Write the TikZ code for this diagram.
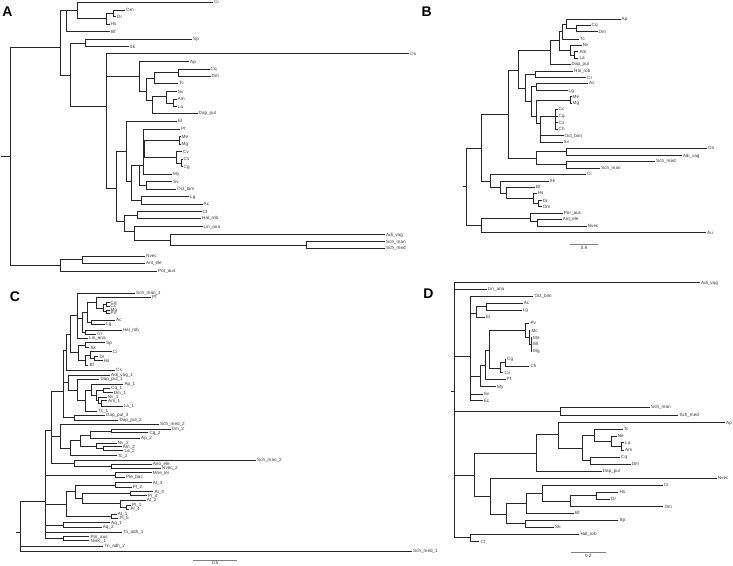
\documentclass[tikz,border=0pt]{standalone}
\usepackage{fontspec}
\setmainfont{Liberation Sans}
\tikzset{
 br/.style={draw=black!85,line width=0.7pt},
 lab/.style={anchor=west,inner xsep=1.2pt,inner ysep=0pt,outer sep=0pt,font=\fontsize{4.6}{5}\selectfont,text=black!80,text height=3.3pt,text depth=0pt},
 pl/.style={font=\fontsize{14}{14}\bfseries\selectfont,inner sep=0pt},
 sbar/.style={draw=black!50,line width=0.6pt},
}
\newcommand\inN[4]{\coordinate (#1) at (#2,#3); \draw[br] (#4) |- (#1);}
\newcommand\tipL[5]{\node[lab] (#1) at (#2,#3) {#4}; \draw[br] (#5) |- (#1.west);}
\begin{document}
\begin{tikzpicture}[x=1pt,y=-1pt]
\path[use as bounding box] (0,0) rectangle (733,565);
% ---------------- Panel A
\node[pl] (LA) at (7.5,11.7) {A};
\coordinate (A0) at (10.7,156.7); \coordinate (A0s) at (0.5,156.7); \draw[br] (A0s) -- (A0);
\inN{A1}{60}{47.7}{A0}
\inN{A2}{66.7}{10}{A1}
\inN{A4}{77}{10}{A2}
\tipL{aCi}{213}{2.2}{Ci}{A4}
\inN{A5}{106}{18.3}{A4}
\inN{A6}{113}{13.3}{A5}
\tipL{aOm}{125}{10}{Om}{A6}
\tipL{aDr}{116}{16.5}{Dr}{A6}
\tipL{aHs}{109.5}{24}{Hs}{A5}
\tipL{aBf}{110}{31.7}{Bf}{A2}
\inN{A3}{70.7}{75}{A1}
\inN{A7}{85}{43}{A3}
\tipL{aSp}{192}{39.3}{Sp}{A7}
\tipL{aSk}{128.5}{46.7}{Sk}{A7}
\inN{A8}{106}{106.7}{A3}
\tipL{aOs}{409}{53.5}{Os}{A8}
\inN{A9}{139.3}{76.7}{A8}
\tipL{aAp}{189}{61.7}{Ap}{A9}
\inN{A11}{146.7}{91.7}{A9}
\inN{A12}{154}{78}{A11}
\inN{A14}{178.3}{72.7}{A12}
\tipL{aCq}{209.5}{69.3}{Cq}{A14}
\tipL{aDm}{210.5}{76}{Dm}{A14}
\tipL{aTc}{178}{83.3}{Tc}{A12}
\inN{A13}{152.7}{100}{A11}
\inN{A15}{166}{96.7}{A13}
\tipL{aNv}{176.5}{91.7}{Nv}{A15}
\inN{A16}{173.3}{103}{A15}
\tipL{aAm}{176.5}{99.3}{Am}{A16}
\tipL{aLa}{176.5}{106.7}{La}{A16}
\tipL{aDap}{197.5}{113.3}{Dap\_pul}{A13}
\inN{A10}{116.7}{188.3}{A8}
\inN{A17}{126}{151.7}{A10}
\tipL{aEl}{177}{121}{El}{A17}
\inN{A19}{131.7}{181.7}{A17}
\inN{A20}{139.3}{165}{A19}
\inN{A22}{143}{165}{A20}
\tipL{aPf}{180}{129.3}{Pf}{A22}
\inN{A24}{144.5}{148.5}{A22}
\inN{A26}{179.3}{140.3}{A24}
\tipL{aMe}{180.5}{136.7}{Me}{A26}
\tipL{aMg}{180.5}{144}{Mg}{A26}
\inN{A27}{176.7}{157.3}{A24}
\tipL{aCv}{182}{151.7}{Cv}{A27}
\inN{A28}{181}{162.9}{A27}
\tipL{aCs}{182.5}{159}{Cs}{A28}
\tipL{aCg}{182.5}{166.7}{Cg}{A28}
\tipL{aMy}{172}{174}{My}{A22}
\inN{A23}{146.7}{185.3}{A20}
\tipL{aSv}{172}{181.7}{Sv}{A23}
\tipL{aOct}{176}{189}{Oct\_bim}{A23}
\inN{A21}{141.7}{200}{A19}
\tipL{aLg}{189}{196.7}{Lg}{A21}
\tipL{aAc}{202.5}{204}{Ac}{A21}
\inN{A18}{124}{221.7}{A10}
\inN{A29}{137.7}{215}{A18}
\tipL{aCt}{201.5}{211.7}{Ct}{A29}
\tipL{aHal}{201}{218.3}{Hal\_rob}{A29}
\inN{A30}{134.3}{231.7}{A18}
\tipL{aLin}{202.5}{226.7}{Lin\_ana}{A30}
\inN{A31}{170.7}{240}{A30}
\tipL{aAdi}{385}{234.5}{Adi\_vag}{A31}
\inN{A32}{306.7}{245}{A31}
\tipL{aSman}{385}{241.7}{Sch\_man}{A32}
\tipL{aSmed}{385}{248.3}{Sch\_med}{A32}
\inN{A33}{60}{265}{A0}
\inN{A34}{82.7}{259.7}{A33}
\tipL{aNvec}{145}{256}{Nvec}{A34}
\tipL{aAnt}{145}{263.3}{Ant\_ele}{A34}
\tipL{aPor}{157}{271}{Por\_aus}{A33}
% ---------------- Panel B
\node[pl] (LB) at (426.7,11.3) {B};
\coordinate (B0) at (466.7,186.7); \coordinate (B0s) at (463.3,186.7); \draw[br] (B0s) -- (B0);
\inN{B1}{481.7}{148.3}{B0}
\inN{B2}{508.3}{114.3}{B1}
\inN{B4}{518.3}{70.7}{B2}
\inN{B6}{550.7}{50}{B4}
\inN{B8}{559.3}{40}{B6}
\inN{B9}{562.7}{31.7}{B8}
\inN{B11}{566}{24}{B9}
\tipL{bAp}{620.5}{19.3}{Ap}{B11}
\inN{B12}{576.7}{28.3}{B11}
\tipL{bCq}{590.5}{25}{Cq}{B12}
\tipL{bDm}{597.5}{31.7}{Dm}{B12}
\tipL{bTc}{579}{39.3}{Tc}{B9}
\inN{B10}{570}{50}{B8}
\tipL{bNv}{581.7}{45}{Nv}{B10}
\inN{B13}{574}{55}{B10}
\tipL{bAm}{578.3}{51.7}{Am}{B13}
\tipL{bLa}{578.3}{58.3}{La}{B13}
\tipL{bDap}{570.5}{64.3}{Dap\_pul}{B6}
\inN{B7}{525}{88.3}{B4}
\inN{B14}{535}{74.3}{B7}
\tipL{bHal}{573}{71}{Hal\_rob}{B14}
\tipL{bCt}{586}{77.7}{Ct}{B14}
\inN{B15}{531.7}{101.7}{B7}
\inN{B16}{536.7}{86.7}{B15}
\tipL{bAc}{588}{83.3}{Ac}{B16}
\tipL{bLg}{567.5}{90.7}{Lg}{B16}
\inN{B17}{536.7}{116}{B15}
\inN{B18}{570.7}{100}{B17}
\tipL{bMe}{571.5}{96.7}{Me}{B18}
\tipL{bMg}{571.5}{103.3}{Mg}{B18}
\inN{B19}{540.7}{123}{B17}
\inN{B20}{555}{116}{B19}
\tipL{bCc}{557.5}{109.3}{Cc}{B20}
\tipL{bCg}{557.5}{116}{Cg}{B20}
\tipL{bCs}{557.5}{122.7}{Cs}{B20}
\tipL{bCh}{557.5}{129}{Ch}{B20}
\tipL{bOct}{563.5}{135.7}{Oct\_bim}{B19}
\tipL{bSv}{562.5}{142.3}{Sv}{B19}
\inN{B5}{536.7}{158.3}{B2}
\inN{B21}{566.7}{151.7}{B5}
\tipL{bOs}{707}{148.3}{Os}{B21}
\tipL{bAdi}{681.7}{155.7}{Adi\_vag}{B21}
\inN{B22}{566.7}{164.3}{B5}
\tipL{bSmed}{655}{161}{Sch\_med}{B22}
\tipL{bSman}{600}{168}{Sch\_man}{B22}
\inN{B3}{490.7}{181.7}{B1}
\tipL{bCi}{586}{174.3}{Ci}{B3}
\inN{B23}{500}{187.3}{B3}
\tipL{bSk}{548.5}{181}{Sk}{B23}
\inN{B24}{506}{193.3}{B23}
\tipL{bBf}{535}{187.3}{Bf}{B24}
\inN{B25}{533.3}{198.3}{B24}
\tipL{bHs}{536.7}{193.3}{Hs}{B25}
\inN{B26}{538.3}{203.7}{B25}
\tipL{bDr}{541.7}{200.7}{Dr}{B26}
\tipL{bOm}{541.7}{206.7}{Om}{B26}
\inN{B27}{481.7}{225}{B0}
\inN{B28}{530.7}{218.3}{B27}
\tipL{bPor}{562.7}{213.3}{Por\_aus}{B28}
\inN{B29}{537.3}{221}{B28}
\tipL{bAnt}{561.7}{219.3}{Ant\_ele}{B29}
\tipL{bNvec}{586.7}{226}{Nvec}{B29}
\tipL{bAu}{706}{232.7}{Au}{B27}
\coordinate (bs1) at (570,244); \coordinate (bs2) at (598,244);
\draw[sbar] (bs1) -- (bs2);
\node[lab,anchor=north] (bsl) at (584,246) {0.9};
% ---------------- Panel C
\node[pl] (LC) at (15,297) {C};
\coordinate (C0) at (20.7,532.7); \coordinate (C0s) at (16,532.7); \draw[br] (C0s) -- (C0);
\inN{Cm}{45.7}{501.7}{C0}
\inN{Cup}{51.7}{430.7}{Cm}
\inN{Ctop}{63.3}{391.7}{Cup}
\inN{Ct3}{66.7}{350}{Ctop}
\inN{Ct2}{70.5}{334}{Ct3}
\inN{Ct1}{77}{315}{Ct2}
\tipL{cSman1}{135}{293.3}{Sch\_man\_1}{Ct1}
\inN{Cpa}{82}{318}{Ct1}
\inN{Cp1}{87.3}{312}{Cpa}
\inN{Cpf}{96.7}{302.7}{Cp1}
\tipL{cPf}{151}{297.3}{Pf}{Cpf}
\inN{Cc3}{103.3}{308}{Cpf}
\inN{Cc1}{106}{304.3}{Cc3}
\tipL{cCq}{109.5}{302.7}{Cq}{Cc1}
\tipL{cCc}{109.5}{306}{Cc}{Cc1}
\inN{Cc2}{106.7}{311.7}{Cc3}
\tipL{cMg}{109.5}{310}{Mg}{Cc2}
\tipL{cPv}{109.5}{313.3}{Pv}{Cc2}
\inN{Caclg}{91.7}{322}{Cp1}
\tipL{cAc}{115}{320}{Ac}{Caclg}
\tipL{cLg}{105}{324}{Lg}{Caclg}
\inN{Chal}{85}{332}{Cpa}
\tipL{cHal}{121.7}{330}{Hal\_rob}{Chal}
\tipL{cCt}{96}{334}{Ct}{Chal}
\tipL{cLin}{88}{338.3}{Lin\_ana}{Ct1}
\inN{Csk}{78.3}{352.5}{Ct2}
\inN{Csp}{85}{345}{Csk}
\tipL{cSp}{105}{342.7}{Sp}{Csp}
\tipL{cSk}{89.3}{347.7}{Sk}{Csp}
\inN{Ccb}{85}{360}{Csk}
\inN{Cci}{90}{355}{Ccb}
\tipL{cCi}{111.7}{351.7}{Ci}{Cci}
\inN{Cdh}{94}{358.7}{Cci}
\tipL{cDr}{98.3}{356.7}{Dr}{Cdh}
\tipL{cHs}{102.7}{360.7}{Hs}{Cdh}
\tipL{cBf}{88.3}{365}{Bf}{Ccb}
\tipL{cCs}{115}{370}{Cs}{Ct3}
\inN{Ca1}{68.3}{382}{Ctop}
\tipL{cAdi1}{110}{375}{Adi\_vag\_1}{Ca1}
\inN{Ca2}{77.3}{390}{Ca1}
\tipL{cDap1}{99.3}{379.3}{Dap\_pul\_1}{Ca2}
\inN{Ca3}{85}{400}{Ca2}
\inN{Ca4}{91.7}{390}{Ca3}
\tipL{cAp1}{123.3}{384}{Ap\_1}{Ca4}
\inN{Ca5}{96.7}{395.4}{Ca4}
\inN{Ccd}{103.3}{390.5}{Ca5}
\tipL{cCq1}{110}{388.3}{Cq\_1}{Ccd}
\tipL{cDm1}{112.7}{392.7}{Dm\_1}{Ccd}
\inN{Cnv}{98.3}{400.3}{Ca5}
\tipL{cNv1}{106.7}{397.3}{Nv\_1}{Cnv}
\inN{Cal}{101.7}{403.3}{Cnv}
\tipL{cAm1}{107}{400.7}{Am\_1}{Cal}
\tipL{cLa1}{122.7}{406}{La\_1}{Cal}
\tipL{cTc1}{97.3}{411}{Tc\_1}{Ca3}
\inN{Cdp}{74}{417.5}{Ctop}
\tipL{cDap3}{105}{415}{Dap\_pul\_3}{Cdp}
\tipL{cDap2}{118.3}{420}{Dap\_pul\_2}{Cdp}
\inN{Cs2}{60}{436}{Cup}
\tipL{cSmed2}{159}{424}{Sch\_med\_2}{Cs2}
\inN{Cs2d}{70}{448}{Cs2}
\inN{Cs2c}{80}{440}{Cs2d}
\inN{Cs2b}{90}{435}{Cs2c}
\inN{Cs2a}{111.7}{431}{Cs2b}
\tipL{cDm2}{170.5}{429.3}{Dm\_2}{Cs2a}
\tipL{cCq2}{148.3}{432.7}{Cq\_2}{Cs2a}
\tipL{cAp2}{140}{438.3}{Ap\_2}{Cs2b}
\inN{Cnv2}{96.7}{446}{Cs2c}
\tipL{cNv2}{116.7}{443.3}{Nv\_2}{Cnv2}
\inN{Cal2}{103.3}{448.7}{Cnv2}
\tipL{cAm2}{121.7}{446.7}{Am\_2}{Cal2}
\tipL{cLa2}{123.3}{450.7}{La\_2}{Cal2}
\tipL{cTc2}{116.7}{455.7}{Tc\_2}{Cs2d}
\inN{Csm2}{74}{463}{Cup}
\tipL{cSman2}{256}{460}{Sch\_man\_2}{Csm2}
\inN{Cano}{111.7}{466}{Csm2}
\tipL{cAno}{151.7}{464}{Ano\_ele}{Cano}
\tipL{cNvec2}{161}{468.3}{Nvec\_2}{Cano}
\inN{Cmne}{115}{475}{Cm}
\tipL{cMne}{151.7}{472.7}{Mne\_lei}{Cmne}
\tipL{cPle}{125}{477.3}{Ple\_bac}{Cmne}
\inN{Ce}{66.7}{503.9}{Cm}
\inN{Cd}{75}{491.8}{Ce}
\inN{Cat32}{115}{485}{Cd}
\tipL{cAt3}{151.7}{482.7}{At\_3}{Cat32}
\tipL{cPl2}{131.7}{487.3}{Pl\_2}{Cat32}
\inN{Cx}{82.7}{498.6}{Cd}
\inN{Cat34}{130}{493.7}{Cx}
\tipL{cAt4}{153.3}{491.7}{At\_4}{Cat34}
\tipL{cPl3}{146.7}{495.7}{Pl\_3}{Cat34}
\inN{Cat2}{120}{503.5}{Cx}
\tipL{cAt2}{145.7}{500}{At\_2}{Cat2}
\inN{Cpl14}{126}{507}{Cat2}
\tipL{cPl1}{131}{505}{Pl\_1}{Cpl14}
\tipL{cPl4}{129.3}{509.3}{Pl\_4}{Cpl14}
\inN{Cat1}{111.7}{516}{Ce}
\tipL{cAt1}{116.7}{514}{At\_1}{Cat1}
\tipL{cPl5}{118.3}{518.3}{Pl\_5}{Cat1}
\inN{Caq}{63.3}{525}{Cm}
\tipL{cAq1}{110}{522.7}{Aq\_1}{Caq}
\tipL{cAq2}{101.7}{527.3}{Aq\_2}{Caq}
\tipL{cTri1}{121.7}{532.3}{Tri\_adh\_1}{Cm}
\inN{Cpn}{63.3}{538.7}{Cm}
\tipL{cPor}{89.3}{536.7}{Por\_aus}{Cpn}
\tipL{cNvec1}{89.3}{540.7}{Nvec\_1}{Cpn}
\tipL{cTri2}{103.3}{546}{Tri\_adh\_2}{C0}
\tipL{cSmed1}{412}{551}{Sch\_med\_1}{C0}
\coordinate (cs1) at (193.3,560); \coordinate (cs2) at (237.3,560);
\draw[sbar] (cs1) -- (cs2);
\node[lab,anchor=north] (csl) at (215.3,561.2) {0.5};
% ---------------- Panel D
\node[pl] (LD) at (428.3,294) {D};
\coordinate (D0) at (454,391.7); \coordinate (D0s) at (451.3,391.7); \draw[br] (D0s) -- (D0);
\tipL{dAdi}{700}{282.7}{Adi\_vag}{D0}
\tipL{dLin}{486.7}{289.3}{Lin\_ana}{D0}
\inN{D1}{470.7}{356}{D0}
\tipL{dOct}{533.3}{296}{Oct\_bim}{D1}
\inN{Del}{476}{313}{D1}
\inN{Dacl}{486}{306.7}{Del}
\tipL{dAc}{522.7}{303.3}{Ac}{Dacl}
\tipL{dLg}{521.7}{310}{Lg}{Dacl}
\tipL{dEl}{485}{317.3}{El}{Del}
\inN{Df}{480.7}{376}{D1}
\inN{De}{485}{365}{Df}
\inN{Dmm}{489.3}{350}{De}
\inN{Dpv}{525}{330.7}{Dmm}
\tipL{dPv}{529.3}{323.3}{Pv}{Dpv}
\inN{Dmc}{529}{337}{Dpv}
\tipL{dMc}{530.3}{330.7}{Mc}{Dmc}
\inN{Dme}{531}{344}{Dmc}
\tipL{dMe}{532}{337.7}{Me}{Dme}
\tipL{dMt}{532}{344.3}{Mt}{Dme}
\tipL{dMg}{532}{351}{Mg}{Dme}
\inN{Dcv}{500.7}{368.3}{Dmm}
\inN{Dcg}{505}{362.7}{Dcv}
\tipL{dCg}{506}{359.3}{Cg}{Dcg}
\tipL{dCh}{529.3}{366}{Ch}{Dcg}
\tipL{dCv}{503.3}{372.7}{Cv}{Dcv}
\tipL{dPf}{505.5}{379.3}{Pf}{De}
\tipL{dMy}{496}{386.7}{My}{Df}
\tipL{dSv}{482.7}{394}{Sv}{D1}
\tipL{dEc}{482.7}{400.7}{Ec}{D1}
\inN{Dsch}{560}{411.7}{D0}
\tipL{dSman}{650}{407.3}{Sch\_man}{Dsch}
\tipL{dSmed}{678.3}{415}{Sch\_med}{Dsch}
\inN{Dz}{474}{475}{D0}
\inN{Dd5}{536.7}{453.3}{Dz}
\inN{Dapn}{558.3}{434}{Dd5}
\tipL{dAp}{725}{422.7}{Ap}{Dapn}
\inN{Db}{582.3}{448.3}{Dapn}
\inN{Dtc}{594}{435}{Db}
\tipL{dTc}{622.7}{429.3}{Tc}{Dtc}
\inN{Dne}{611.7}{441}{Dtc}
\tipL{dNe}{616.7}{436}{Ne}{Dne}
\inN{Dla}{621.7}{446.3}{Dne}
\tipL{dLa}{624}{442.7}{La}{Dla}
\tipL{dAm}{624}{450}{Am}{Dla}
\inN{Dcq}{590.7}{460.7}{Db}
\tipL{dCq}{620}{457.3}{Cq}{Dcq}
\tipL{dDm}{630.7}{464}{Dm}{Dcq}
\tipL{dDap}{601.7}{471}{Dap\_pul}{Dd5}
\inN{Dy}{490}{496}{Dz}
\tipL{dNvec}{716.7}{478.3}{Nvec}{Dy}
\inN{Dx}{506.7}{514}{Dy}
\inN{Dbf}{526.7}{503.3}{Dx}
\inN{Dci}{542.7}{493.3}{Dbf}
\tipL{dCi}{662.7}{485}{Ci}{Dci}
\inN{Dom}{570}{501}{Dci}
\inN{Dhd}{596}{495.8}{Dom}
\tipL{dHs}{618.3}{492.3}{Hs}{Dhd}
\tipL{dDr}{610}{499.3}{Dr}{Dhd}
\tipL{dOm}{663.3}{506.7}{Om}{Dom}
\tipL{dBf}{574}{513.3}{Bf}{Dbf}
\inN{Dss}{525}{523.7}{Dx}
\tipL{dSp}{618.3}{520}{Sp}{Dss}
\tipL{dSk}{554}{527.3}{Sk}{Dss}
\inN{Dhc}{470.7}{537.7}{D0}
\tipL{dHal}{579.3}{534}{Hal\_rob}{Dhc}
\tipL{dCt}{479.3}{541.7}{Ct}{Dhc}
\coordinate (ds1) at (570.7,552.7); \coordinate (ds2) at (606,552.7);
\draw[sbar] (ds1) -- (ds2);
\node[lab,anchor=north] (dsl) at (588.3,554.2) {0.2};
\end{tikzpicture}
\end{document}
